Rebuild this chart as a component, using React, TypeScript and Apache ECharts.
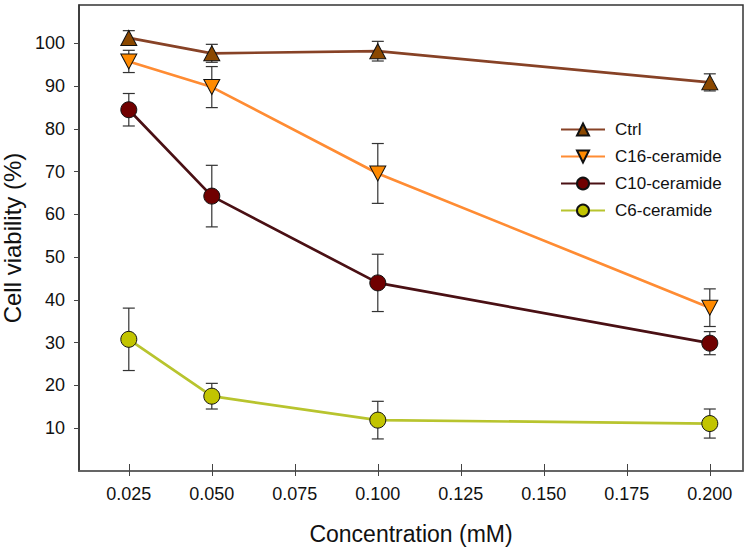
import React, { useEffect, useRef } from "react";
import * as echarts from "echarts";

const xValues = [0.025, 0.05, 0.1, 0.2];
const xTicks = [0.025, 0.05, 0.075, 0.1, 0.125, 0.15, 0.175, 0.2];
const yTicks = [10, 20, 30, 40, 50, 60, 70, 80, 90, 100];

const seriesNames = ["Ctrl", "C16-ceramide", "C10-ceramide", "C6-ceramide"];
const ctrlMean = [101.3, 97.7, 98.2, 90.9];
const ctrlErr = [1.7, 2.1, 2.3, 2.0];
const c16Mean = [95.8, 89.8, 69.6, 38.2];
const c16Err = [2.6, 4.8, 7.0, 4.4];
const c10Mean = [84.5, 64.3, 44.0, 29.9];
const c10Err = [3.8, 7.2, 6.7, 2.7];
const c6Mean = [30.8, 17.5, 11.9, 11.1];
const c6Err = [7.3, 3.0, 4.4, 3.4];

const lineColors = ["#874226", "#ff8c33", "#4a1014", "#b8c42e"];
const markerColors = ["#8b4800", "#ff8a00", "#700000", "#c2c400"];
const symbols = ["triangle", "triangle", "circle", "circle"];
const symbolRotates = [0, 180, 0, 0];

export default function App() {
  const ref = useRef<HTMLDivElement>(null);
  useEffect(() => {
    document.body.style.margin = "0";
    if (!ref.current) return;
    const chart = echarts.init(ref.current, null, { renderer: "svg" });
    const means = [ctrlMean, c16Mean, c10Mean, c6Mean];
    const errs = [ctrlErr, c16Err, c10Err, c6Err];
    const errData: number[][] = [];
    means.forEach((m, si) =>
      m.forEach((v, i) => errData.push([xValues[i], v, errs[si][i]]))
    );
    const font = "'Liberation Sans', Arial, sans-serif";
    const lineSeries = seriesNames.map((name, si) => ({
      name,
      type: "line",
      xAxisIndex: 0,
      data: xValues.map((x, i) => [x, means[si][i]]),
      symbol: symbols[si],
      symbolRotate: symbolRotates[si],
      symbolSize: si < 2 ? [16, 15] : 16,
      lineStyle: { color: lineColors[si], width: 2.7 },
      itemStyle: { color: markerColors[si], borderColor: "#111", borderWidth: 1 },
      z: 3,
    }));
    chart.setOption({
      animation: false,
      grid: {
        left: 79,
        right: 7,
        top: 5,
        bottom: 87,
        show: true,
        borderColor: "#333",
        borderWidth: 1.5,
        containLabel: false,
        outerBoundsMode: "none",
      },
      legend: {
        data: seriesNames,
        orient: "vertical",
        left: 555,
        top: 116,
        itemWidth: 44,
        itemHeight: 15,
        itemGap: 10,
        textStyle: {
          fontFamily: font,
          fontSize: 17,
          color: "#111",
          padding: [0, 0, 0, 5],
        },
      },
      xAxis: [
        {
          type: "value",
          min: 0.01,
          max: 0.21,
          name: "Concentration (mM)",
          nameLocation: "middle",
          nameGap: 51,
          nameTextStyle: { fontFamily: font, fontSize: 23, color: "#111" },
          axisLine: { show: true, lineStyle: { color: "#666", width: 1.5 } },
          axisTick: {
            show: true,
            inside: true,
            length: 7,
            customValues: xTicks,
            lineStyle: { color: "#444" },
          },
          axisLabel: {
            customValues: xTicks,
            formatter: (v: number) => v.toFixed(3),
            fontFamily: font,
            fontSize: 18,
            color: "#111",
            margin: 14,
          },
          splitLine: { show: false },
        },
        {
          type: "value",
          min: 0.01,
          max: 0.21,
          position: "bottom",
          axisLine: { show: false },
          axisTick: {
            show: true,
            inside: false,
            length: 5,
            customValues: xTicks,
            lineStyle: { color: "#444" },
          },
          axisLabel: { show: false },
          splitLine: { show: false },
        },
      ],
      yAxis: {
        type: "value",
        min: 0,
        max: 109,
        name: "Cell viability (%)",
        nameLocation: "middle",
        nameGap: 46,
        nameTextStyle: { fontFamily: font, fontSize: 24, color: "#111" },
        axisLine: { show: true, lineStyle: { color: "#333", width: 1.5 } },
        axisTick: {
          show: true,
          inside: false,
          length: 5,
          customValues: yTicks,
          lineStyle: { color: "#444" },
        },
        axisLabel: {
          customValues: yTicks,
          fontFamily: font,
          fontSize: 18,
          color: "#111",
          margin: 14,
        },
        splitLine: { show: false },
      },
      series: [
        {
          type: "custom",
          xAxisIndex: 0,
          z: 2,
          data: errData,
          encode: { x: 0, y: 1 },
          renderItem: (params: any, api: any) => {
            const x = api.value(0);
            const y = api.value(1);
            const e = api.value(2);
            const top = api.coord([x, y + e]);
            const bot = api.coord([x, y - e]);
            const hw = 6;
            const st = { stroke: "#333", lineWidth: 1.2 };
            return {
              type: "group",
              children: [
                { type: "line", shape: { x1: top[0], y1: top[1], x2: bot[0], y2: bot[1] }, style: st },
                { type: "line", shape: { x1: top[0] - hw, y1: top[1], x2: top[0] + hw, y2: top[1] }, style: st },
                { type: "line", shape: { x1: bot[0] - hw, y1: bot[1], x2: bot[0] + hw, y2: bot[1] }, style: st },
              ],
            };
          },
        },
        ...lineSeries,
      ],
    });
    return () => chart.dispose();
  }, []);
  return <div ref={ref} style={{ width: 750, height: 558 }} />;
}
